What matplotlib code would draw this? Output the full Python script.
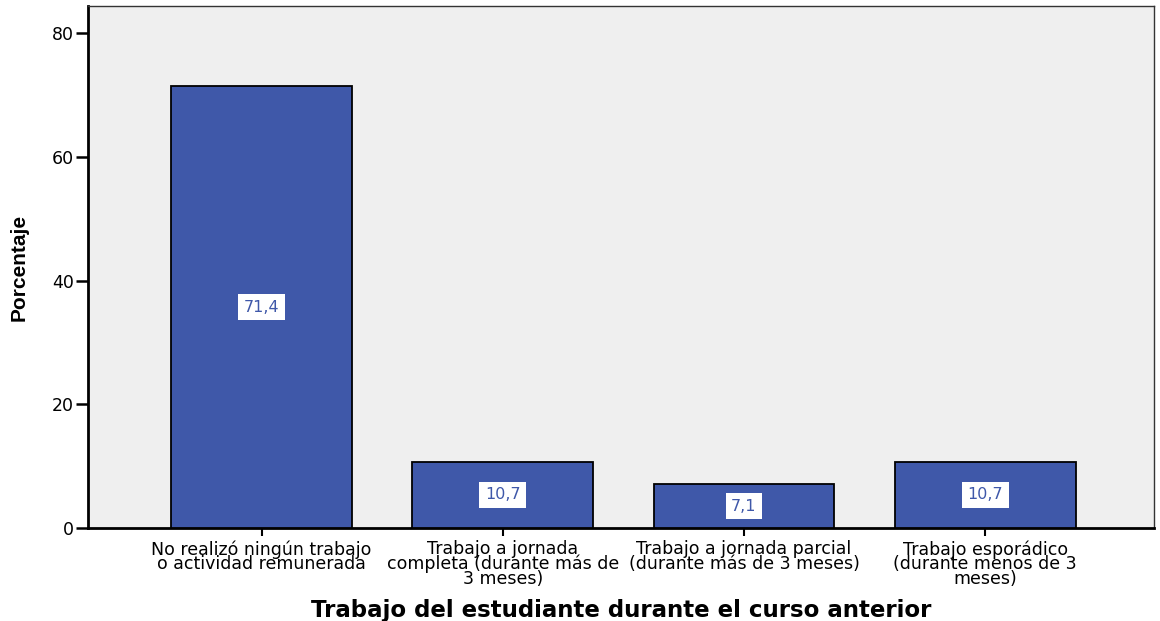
import matplotlib.pyplot as plt

categories = [
    "No realizó ningún trabajo\no actividad remunerada",
    "Trabajo a jornada\ncompleta (durante más de\n3 meses)",
    "Trabajo a jornada parcial\n(durante más de 3 meses)",
    "Trabajo esporádico\n(durante menos de 3\nmeses)",
]
values = [71.4, 10.7, 7.1, 10.7]
labels = ["71,4", "10,7", "7,1", "10,7"]
yticks = [0, 20, 40, 60, 80]

plt.rcParams['font.family'] = ['DejaVu Sans']

fig = plt.figure(figsize=(11.6, 6.21), dpi=100)
ax = fig.add_axes([0.0759, 0.1498, 0.9189, 0.8405])
ax.set_facecolor("#efefef")

x = list(range(len(values)))
ax.bar(x, values, width=0.75, color="#3f58a9", edgecolor="black", linewidth=1.3, zorder=3)

for xi, v, lab in zip(x, values, labels):
    ax.text(xi, v / 2, lab, ha="center", va="center", fontsize=11.5, color="#3f58a9",
            bbox=dict(facecolor="white", edgecolor="none", pad=4), zorder=4)

ax.set_xlim(-0.72, 3.70)
ax.set_ylim(0, 84.4)
ax.set_yticks(yticks)
ax.set_yticklabels([str(t) for t in yticks], fontsize=12.5)
ax.set_xticks(x)
ax.set_xticklabels(categories, fontsize=12.5, linespacing=0.75)

ax.tick_params(axis="y", length=9, width=1.8, pad=1)
ax.tick_params(axis="x", length=6, width=1.5, pad=3)

for side in ["left", "bottom"]:
    ax.spines[side].set_linewidth(2)
for side in ["top", "right"]:
    ax.spines[side].set_linewidth(1)
    ax.spines[side].set_color("#333333")

ax.set_ylabel("Porcentaje", fontsize=15, fontweight="heavy",
              family=["Liberation Sans", "DejaVu Sans"])
ax.yaxis.set_label_coords(-0.056, 0.5)
ax.set_xlabel("Trabajo del estudiante durante el curso anterior", fontsize=16.5,
              fontweight="bold", labelpad=8)

fig.savefig("out.png", dpi=100)
